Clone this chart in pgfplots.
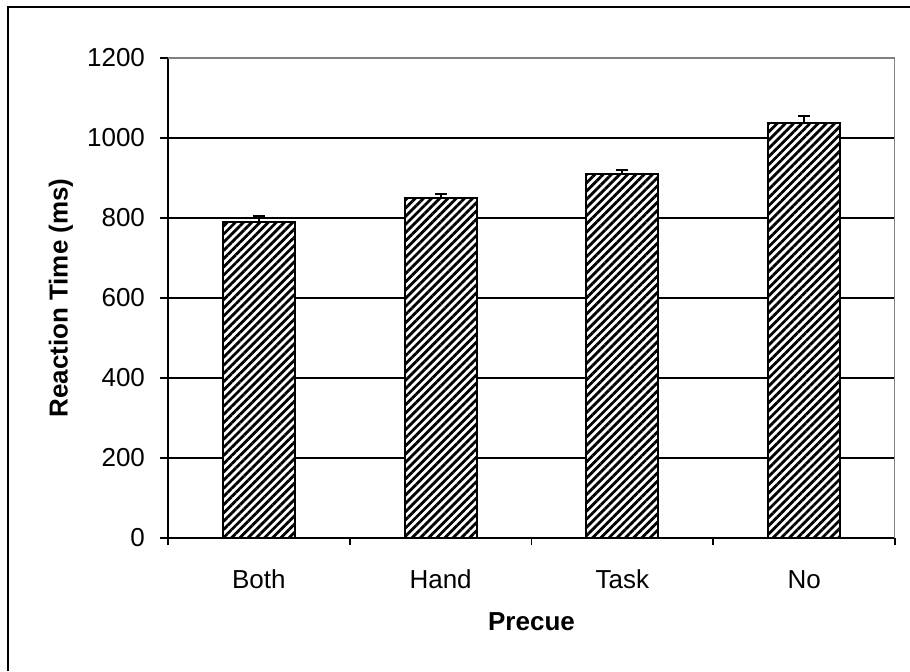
\documentclass[border=0pt]{standalone}
\usepackage{pgfplots}
\pgfplotsset{compat=1.18}
\usepackage{fontspec}
\setmainfont{Liberation Sans}
\usetikzlibrary{patterns.meta}
\begin{document}
\fontsize{13pt}{16pt}\selectfont
\begin{tikzpicture}[x=0.5pt,y=0.5pt]
\useasboundingbox (0,0) rectangle (910,671);
\draw[line width=1pt] (8,0) -- (8,664) -- (910,664);
\begin{axis}[
  at={(84pt,66.5pt)}, anchor=south west, scale only axis,
  width=363.5pt, height=240pt,
  ymin=0, ymax=1200, ytick={0,200,...,1200},
  xmin=-0.5, xmax=3.5, xtick={0,1,2,3}, xticklabels={Both,Hand,Task,No},
  minor xtick={-0.5,0.5,1.5,2.5,3.5},
  major x tick style={draw=none},
  tick align=outside,
  ymajorgrids, major grid style={black, line width=0.7pt},
  axis x line*=bottom, axis y line*=left,
  axis line style={black, line width=0.8pt},
  tick style={black, line width=0.8pt},
  major tick length=4pt, minor tick length=3.5pt,
  ybar, bar width=36pt,
  xlabel={\textbf{Precue}}, ylabel={\textbf{Reaction Time (ms)}},
  every axis x label/.style={at={(axis description cs:0.5,-0.175)}, anchor=center},
  every axis y label/.style={at={(axis description cs:-0.1472,0.5)}, rotate=90, anchor=center},
  label style={font=\fontsize{13pt}{16pt}\selectfont},
  /pgf/number format/assume math mode=true,
  /pgf/number format/1000 sep={},
  ticklabel style={font=\fontsize{13pt}{16pt}\selectfont},
  yticklabel style={xshift=-3pt},
  xticklabel style={anchor=base, yshift=-21pt},
]
\addplot[draw=black, line width=1pt, fill=white,
  postaction={pattern={Lines[angle=45,distance=2.9pt,line width=1.4pt]}},
  error bars/.cd, y dir=plus, y explicit,
  error bar style={line width=1pt, black},
  error mark options={rotate=90, mark size=3pt, line width=1pt, black}]
  coordinates {(0,790) +- (0,14) (1,850) +- (0,9) (2,911) +- (0,8) (3,1037) +- (0,17)};
\draw[gray, line width=1.3pt] (rel axis cs:0,1) -- (rel axis cs:1,1) -- (rel axis cs:1,0);
\end{axis}
\end{tikzpicture}
\end{document}
